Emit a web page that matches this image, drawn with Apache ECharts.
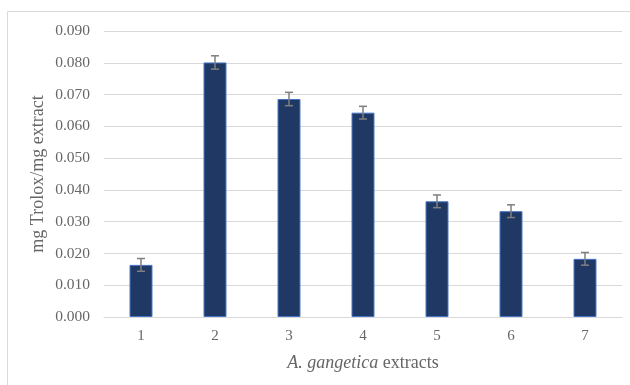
<!DOCTYPE html>
<html><head><meta charset="utf-8">
<script src="https://cdn.jsdelivr.net/npm/echarts@6/dist/echarts.min.js"></script>
<style>html,body{margin:0;padding:0;background:#fff}#c{width:630px;height:385px}</style>
</head><body><div id="c"></div>
<script>
var categories = ['1','2','3','4','5','6','7'];
var values = [0.0164, 0.0801, 0.0686, 0.0643, 0.0364, 0.0333, 0.0183];
var errors = [0.0020, 0.0021, 0.0021, 0.0020, 0.0020, 0.0020, 0.0020];

var chart = echarts.init(document.getElementById('c'));
var font = "'Liberation Serif','Times New Roman',serif";
chart.setOption({
  animation: false,
  graphic: [{type:'rect', shape:{x:7.5,y:11.5,width:640,height:400}, style:{fill:'none', stroke:'#d9d9d9', lineWidth:1}}],
  grid: {left:104, right:8, top:31, bottom:68},
  xAxis: {
    type:'category', data:categories,
    axisLine:{lineStyle:{color:'#d9d9d9'}}, axisTick:{show:false},
    axisLabel:{color:'#666666', fontFamily:font, fontSize:15, margin:12},
    name:'{i|A. gangetica} extracts', nameLocation:'middle', nameGap:37, nameMoveOverlap:false,
    nameTextStyle:{color:'#666666', fontFamily:font, fontSize:18,
      rich:{i:{fontStyle:'italic', color:'#666666', fontFamily:font, fontSize:18}}}
  },
  yAxis: {
    type:'value', min:0, max:0.09, interval:0.01,
    axisLine:{show:false}, axisTick:{show:false},
    splitLine:{lineStyle:{color:'#d9d9d9', width:1}},
    axisLabel:{color:'#666666', fontFamily:font, fontSize:15.5, margin:14, formatter:function(v){return v.toFixed(3);}},
    name:'mg Trolox/mg extract', nameLocation:'middle', nameGap:57, nameRotate:90, nameMoveOverlap:false,
    nameTextStyle:{color:'#666666', fontFamily:font, fontSize:18}
  },
  series: [{
    type:'bar', data:values, barWidth:'31%',
    itemStyle:{color:'#203864', borderColor:'#4472c4', borderWidth:1}
  },{
    type:'custom',
    data: values.map(function(v,i){return [i, v-errors[i], v+errors[i]];}),
    renderItem:function(params, api){
      var lo = api.coord([api.value(0), api.value(1)]);
      var hi = api.coord([api.value(0), api.value(2)]);
      var x = lo[0], w = 4;
      var st = {stroke:'#7f7f7f', lineWidth:1.5};
      return {type:'group', children:[
        {type:'line', shape:{x1:x,y1:lo[1],x2:x,y2:hi[1]}, style:st},
        {type:'line', shape:{x1:x-w,y1:lo[1],x2:x+w,y2:lo[1]}, style:st},
        {type:'line', shape:{x1:x-w,y1:hi[1],x2:x+w,y2:hi[1]}, style:st}
      ]};
    },
    z:10
  }]
});
</script></body></html>
